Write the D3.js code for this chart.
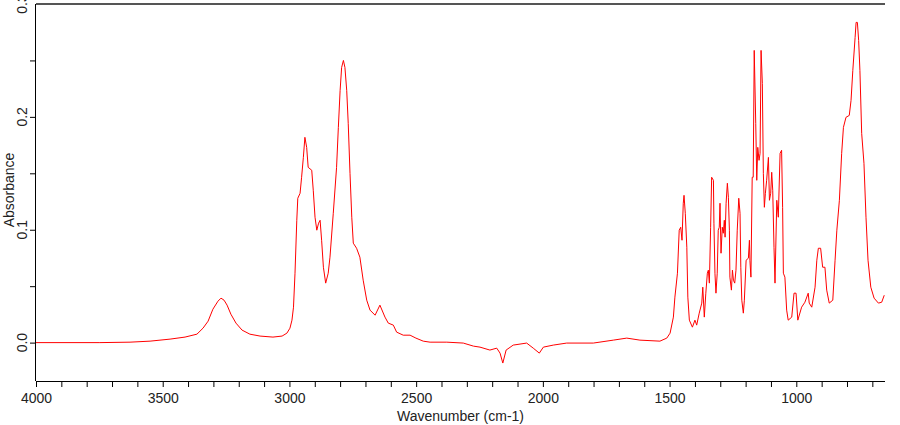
<!DOCTYPE html>
<html>
<head>
<meta charset="utf-8">
<script src="https://cdn.jsdelivr.net/npm/d3@7"></script>
<style>
  html, body { margin: 0; padding: 0; background: #fff; }
  svg { display: block; font-family: "Liberation Sans", Arial, sans-serif; }
</style>
</head>
<body>
<svg id="chart" width="900" height="425"></svg>
<script>
// ---- data ----
const wavenumber = [4000,3748,3629,3550,3471,3412,3365,3341,3321,3302,3282,3270,3258,3246,3231,3211,3187,3156,3116,3065,3029,3010,2998,2990,2984,2978,2971,2967,2958,2952,2945,2939,2932,2926,2912,2906,2899,2892,2885,2879,2873,2866,2857,2847,2840,2827,2814,2807,2800,2794,2787,2781,2774,2768,2761,2754,2748,2735,2722,2709,2695,2682,2662,2643,2623,2610,2590,2577,2551,2524,2501,2472,2445,2379,2314,2274,2248,2209,2182,2169,2158,2145,2117,2064,2038,2014,1998,1959,1906,1801,1722,1669,1617,1538,1511,1498,1485,1479,1469,1462,1456,1451,1446,1443,1438,1432,1428,1422,1410,1400,1393,1383,1373,1369,1363,1357,1351,1347,1343,1338,1334,1327,1325,1321,1317,1312,1308,1304,1301,1297,1292,1288,1284,1281,1277,1272,1268,1264,1262,1256,1252,1248,1243,1238,1233,1227,1222,1219,1215,1209,1205,1198,1189,1185,1183,1179,1174,1170,1166,1160,1156,1152,1147,1143,1139,1134,1130,1126,1122,1117,1110,1106,1101,1097,1093,1088,1084,1077,1071,1064,1058,1054,1051,1045,1038,1032,1018,1009,1001,994,979,966,953,949,939,926,919,913,904,896,887,880,870,856,847,840,830,821,814,804,791,784,777,768,764,759,754,749,742,733,725,717,706,693,676,663,653];
const absorbance = [0.0000,0.0000,0.0004,0.0013,0.0031,0.0049,0.0075,0.0128,0.0190,0.0296,0.0367,0.0394,0.0376,0.0332,0.0252,0.0173,0.0111,0.0075,0.0058,0.0049,0.0058,0.0084,0.0128,0.0199,0.0314,0.0615,0.1084,0.1279,0.1323,0.1465,0.1642,0.1819,0.1730,0.1553,0.1527,0.1350,0.1111,0.0996,0.1058,0.1084,0.0907,0.0668,0.0527,0.0615,0.0757,0.1146,0.1553,0.1907,0.2235,0.2438,0.2500,0.2438,0.2235,0.1943,0.1500,0.1111,0.0881,0.0836,0.0757,0.0553,0.0376,0.0288,0.0243,0.0332,0.0226,0.0173,0.0155,0.0093,0.0066,0.0066,0.0040,0.0013,0.0004,0.0004,-0.0004,-0.0031,-0.0040,-0.0066,-0.0049,-0.0093,-0.0181,-0.0066,-0.0022,-0.0004,-0.0049,-0.0093,-0.0040,-0.0022,-0.0004,-0.0004,0.0022,0.0040,0.0022,0.0013,0.0040,0.0084,0.0226,0.0403,0.0615,0.0996,0.1022,0.0907,0.1235,0.1305,0.1146,0.0845,0.0403,0.0199,0.0137,0.0199,0.0155,0.0261,0.0350,0.0491,0.0226,0.0438,0.0615,0.0642,0.0527,0.1022,0.1465,0.1438,0.1058,0.0615,0.0438,0.0615,0.0996,0.1022,0.1235,0.0792,0.1022,0.0969,0.1084,0.0934,0.1235,0.1412,0.1288,0.0996,0.0580,0.0465,0.0642,0.0553,0.0527,0.0642,0.0996,0.1279,0.1146,0.0668,0.0376,0.0261,0.0376,0.0730,0.0748,0.0907,0.0730,0.0580,0.1465,0.1465,0.2589,0.1943,0.1438,0.1730,0.1615,0.1677,0.2589,0.2297,0.1500,0.1199,0.1323,0.1438,0.1641,0.1261,0.1323,0.1509,0.1350,0.0845,0.0527,0.1261,0.1111,0.1677,0.1704,0.1199,0.0615,0.0580,0.0288,0.0199,0.0226,0.0438,0.0438,0.0199,0.0314,0.0358,0.0438,0.0350,0.0314,0.0491,0.0730,0.0836,0.0836,0.0668,0.0668,0.0465,0.0350,0.0376,0.0730,0.0996,0.1261,0.1677,0.1907,0.1996,0.2013,0.2146,0.2412,0.2704,0.2837,0.2837,0.2677,0.2412,0.1854,0.1589,0.1111,0.0730,0.0491,0.0394,0.0350,0.0358,0.0420];

const xTickValues = d3.range(700, 4001, 100);
const xLabelValues = [4000, 3500, 3000, 2500, 2000, 1500, 1000];
const yTickValues = [0, 0.05, 0.1, 0.15, 0.2, 0.25];
const yLabelValues = [0, 0.1, 0.2, 0.3];
const yLabelText = ["0.0", "0.1", "0.2", "0.3"];
const xTitle = "Wavenumber (cm-1)";
const yTitle = "Absorbance";

// ---- layout ----
const mLeft = 36, mRight = 885, mTop = 4, mBottom = 381;
const svg = d3.select("#chart");

const x = d3.scaleLinear().domain([4000, 650]).range([mLeft, mRight]);
const y = d3.scaleLinear().domain([-0.034, 0.3]).range([mBottom, mTop]);

// top frame line
svg.append("line")
  .attr("x1", mLeft).attr("x2", mRight)
  .attr("y1", mTop).attr("y2", mTop)
  .attr("stroke", "#555").attr("stroke-width", 2);

// x axis
const xAxis = svg.append("g")
  .attr("transform", `translate(0,${mBottom})`)
  .call(d3.axisBottom(x).tickValues(xTickValues).tickSize(6).tickSizeOuter(0)
        .tickFormat(d => xLabelValues.includes(d) ? d : ""));
xAxis.select(".domain").attr("stroke", "#000").attr("d", `M${mLeft},0.5H${mRight}`);
xAxis.selectAll(".tick line").attr("stroke", "#000");
xAxis.selectAll(".tick text")
  .attr("font-size", 14).attr("fill", "#222")
  .attr("y", 9).attr("dy", "0.95em")
  .attr("font-family", '"Liberation Sans", Arial, sans-serif');

// y axis
const yAxis = svg.append("g")
  .attr("transform", `translate(${mLeft},0)`)
  .call(d3.axisLeft(y).tickValues(yTickValues).tickSize(6).tickSizeOuter(0).tickFormat(""));
yAxis.select(".domain").attr("stroke", "#000").attr("d", `M-0.5,${mTop}V${mBottom}`);
yAxis.selectAll(".tick line").attr("stroke", "#000");

svg.append("g").selectAll("text")
  .data(yLabelValues)
  .join("text")
  .attr("transform", d => `translate(27,${y(d)}) rotate(-90)`)
  .attr("text-anchor", "middle")
  .attr("font-size", 14)
  .attr("fill", "#222")
  .text((d, i) => yLabelText[i]);

// axis titles
svg.append("text")
  .attr("x", (mLeft + mRight) / 2).attr("y", 421)
  .attr("text-anchor", "middle")
  .attr("font-size", 14).attr("fill", "#222")
  .text(xTitle);

svg.append("text")
  .attr("transform", `translate(14,190) rotate(-90)`)
  .attr("text-anchor", "middle")
  .attr("font-size", 14).attr("fill", "#222")
  .text(yTitle);

// spectrum line
const pts = wavenumber.map((w, i) => [w, absorbance[i]]);
svg.append("path")
  .datum(pts)
  .attr("fill", "none")
  .attr("stroke", "#ff0000")
  .attr("stroke-width", 1)
  .attr("d", d3.line().x(d => x(d[0])).y(d => y(d[1])));
</script>
</body>
</html>
